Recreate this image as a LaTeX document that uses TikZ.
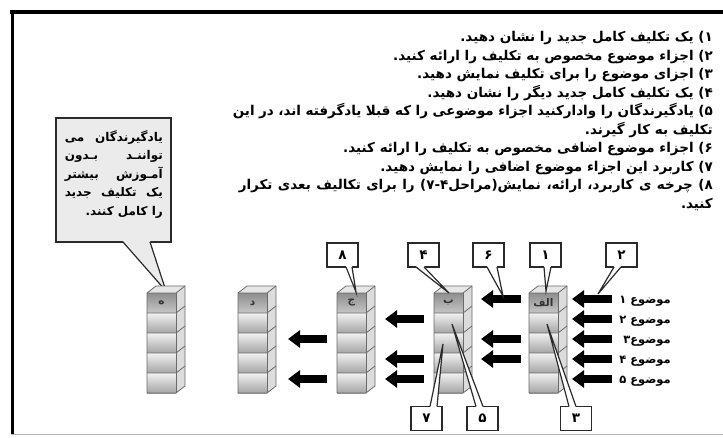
\documentclass[tikz,border=0pt]{standalone}
\usepackage{fontspec}
\newfontfamily\fa[Script=Arabic]{DejaVu Sans}
\TeXXeTstate=1
\usetikzlibrary{arrows.meta}
\definecolor{cellhi}{HTML}{F2F2F2}
\definecolor{celllo}{HTML}{A4A4A4}
\definecolor{lblhi}{HTML}{8E8E8E}
\definecolor{lbllo}{HTML}{C6C6C6}
\definecolor{sideface}{HTML}{DCDCDC}
\definecolor{topface}{HTML}{E6E6E6}
\definecolor{colgray}{HTML}{6A6A6A}
\definecolor{boxline}{HTML}{2A2A2A}
\definecolor{notefill}{HTML}{EBEBEB}
\definecolor{framegray}{HTML}{B4B4B4}
\tikzset{
  fatext/.style={font=\fa\bfseries\fontsize{13.5}{16}\selectfont},
  txtline/.style={anchor=base east, inner sep=0pt, fatext},
  notetext/.style={anchor=base east, inner sep=0pt, font=\fa\bfseries\fontsize{12}{15}\selectfont},
  lbltext/.style={anchor=base east, inner sep=0pt, font=\fa\bfseries\fontsize{11.5}{13}\selectfont},
  numbox/.style={draw=boxline, line width=1.3pt, fill=white, minimum width=31pt, minimum height=24pt, inner sep=0pt, font=\fa\bfseries\fontsize{13.5}{15}\selectfont},
  ptr/.style={draw=boxline, line width=1.2pt, line join=miter},
  bigarrow/.style={line width=7.5pt, -{Triangle[length=12pt,width=17pt]}},
  colline/.style={draw=colgray, line width=0.8pt},
  collabel/.style={inner sep=0pt, text=black!80, font=\fa\bfseries\fontsize{10.5}{12}\selectfont},
}
\newcommand\colstack[3]{%
\begin{scope}[shift={(#2,0)}]
  \fill[topface] (0,293) -- (9,286) -- (38,286) -- (29,293) -- cycle;
  \fill[sideface] (29,293) -- (38,286) -- (38,386) -- (29,393) -- cycle;
  \shade[top color=lblhi, bottom color=lbllo] (0,293) rectangle (29,313);
  \foreach \i in {1,...,4}{\shade[top color=cellhi, bottom color=celllo] (0,293+20*\i) rectangle (29,313+20*\i);}
  \draw[colline] (0,293) -- (9,286) -- (38,286) -- (38,386) -- (29,393) -- (0,393) -- cycle;
  \draw[colline] (0,293) -- (29,293) -- (38,286);
  \draw[colline] (29,293) -- (29,393);
  \foreach \i in {1,...,4}{\draw[colline] (0,293+20*\i) -- (29,293+20*\i) -- (38,286+20*\i);}
  \node[collabel] (#1) at (14.5,303) {\beginR #3\endR};
\end{scope}}
\newcommand\callptr[5]{%
  \fill[white] (#1,#3-0.8) -- (#4,#5) -- (#2,#3-0.8) -- cycle;
  \draw[ptr] (#1,#3) -- (#4,#5) -- (#2,#3);}
\newcommand\callptrup[5]{%
  \fill[white] (#1,#3+0.8) -- (#4,#5) -- (#2,#3+0.8) -- cycle;
  \draw[ptr] (#1,#3) -- (#4,#5) -- (#2,#3);}
\begin{document}
\begin{tikzpicture}[x=1pt,y=-1pt]
\useasboundingbox (0,0) rectangle (723,437);
\fill[white] (0,0) rectangle (723,437);
% frame
\fill[black] (10,10) rectangle (723,13.5);
\fill[black] (10.5,10) rectangle (14,434);
\fill[framegray] (10.5,433.6) rectangle (723,435);

% instruction text
\node[txtline] (t1) at (713,41.5) {\beginR ۱) یک تکلیف کامل جدید را نشان دهید.\endR};
\node[txtline] (t2) at (713,60) {\beginR ۲) اجزاء موضوع مخصوص به تکلیف را ارائه کنید.\endR};
\node[txtline] (t3) at (713,78.5) {\beginR ۳) اجزای موضوع را برای تکلیف نمایش دهید.\endR};
\node[txtline] (t4) at (713,97) {\beginR ۴) یک  تکلیف کامل جدید دیگر را نشان دهید.\endR};
\node[txtline] (t5) at (713,115.5) {\hbox to 480pt{\beginR ۵) یادگیرندگان را وادارکنید اجزاء موضوعی را که قبلا یادگرفته اند، در این\endR}};
\node[txtline] (t5b) at (713,134) {\beginR تکلیف به کار گیرند.\endR};
\node[txtline] (t6) at (713,152.5) {\beginR ۶) اجزاء موضوع اضافی مخصوص به تکلیف را ارائه کنید.\endR};
\node[txtline] (t7) at (713,171) {\beginR ۷) کاربرد این اجزاء موضوع اضافی را نمایش دهید.\endR};
\node[txtline] (t8) at (713,189.5) {\hbox to 474pt{\beginR ۸) چرخه ی کاربرد، ارائه، نمایش(مراحل۴-۷) را برای تکالیف بعدی تکرار\endR}};
\node[txtline] (t8b) at (713,208) {\beginR کنید.\endR};

% note callout
\node[draw=boxline, line width=1.3pt, fill=notefill, minimum width=115pt, minimum height=124pt, inner sep=0pt] (note) at (113.5,180) {};
\fill[notefill] (123,241.2) -- (166,291) -- (150,241.2) -- cycle;
\draw[ptr] (123,242) -- (166,291) -- (150,242);
\node[notetext] (n1) at (163,141) {\hbox to 98pt{\beginR یادگیرندگان\hfill می\endR}};
\node[notetext] (n2) at (163,159.5) {\hbox to 98pt{\beginR تواننـد\hfill بـدون\endR}};
\node[notetext] (n3) at (163,178) {\hbox to 98pt{\beginR آمـوزش\hfill بیشتر\endR}};
\node[notetext] (n4) at (163,196.5) {\hbox to 98pt{\beginR یک\hfill تکلیف\hfill جدید\endR}};
\node[notetext] (n5) at (163,215) {\beginR را کامل کنند.\endR};

% stacks
\colstack{colH}{147}{ه}
\colstack{colD}{238}{د}
\colstack{colJ}{337}{ج}
\colstack{colB}{434}{ب}
\colstack{colA}{529}{الف}

% arrows
\foreach \y in {299,319,339,359,379}{\draw[bigarrow] (612,\y) -- (572,\y);}
\foreach \y in {299,339,359}{\draw[bigarrow] (521,\y) -- (481,\y);}
\foreach \y in {319,359,379}{\draw[bigarrow] (424,\y) -- (385,\y);}
\foreach \y in {339,379}{\draw[bigarrow] (327,\y) -- (288,\y);}

% topic labels
\node[lbltext] (m1) at (671,303.5) {\beginR موضوع ۱\endR};
\node[lbltext] (m2) at (671,323.5) {\beginR موضوع ۲\endR};
\node[lbltext] (m3) at (671,343.5) {\beginR موضوع۳\endR};
\node[lbltext] (m4) at (671,363.5) {\beginR موضوع ۴\endR};
\node[lbltext] (m5) at (671,383.5) {\beginR موضوع ۵\endR};

% number boxes
\node[numbox] (b8) at (342.5,255) {۸};
\node[numbox] (b4) at (423.5,255) {۴};
\node[numbox] (b6) at (488.5,255) {۶};
\node[numbox] (b1) at (545.5,255) {۱};
\node[numbox] (b2) at (621.5,255) {۲};
\node[numbox] (b7) at (426.5,418.5) {۷};
\node[numbox] (b5) at (482.5,418.5) {۵};
\node[numbox] (b3) at (576,418.5) {۳};

\callptr{346}{352}{267}{356}{292}
\callptr{416}{424}{267}{449}{293}
\callptr{487}{497}{267}{503}{296}
\callptr{544}{551}{267}{546}{291}
\callptr{614}{621}{267}{598}{294}
\callptrup{569}{576}{406.5}{547}{324}
\callptrup{476}{483}{406.5}{452}{324}
\callptrup{430}{437}{406.5}{443}{344}
\end{tikzpicture}
\end{document}
